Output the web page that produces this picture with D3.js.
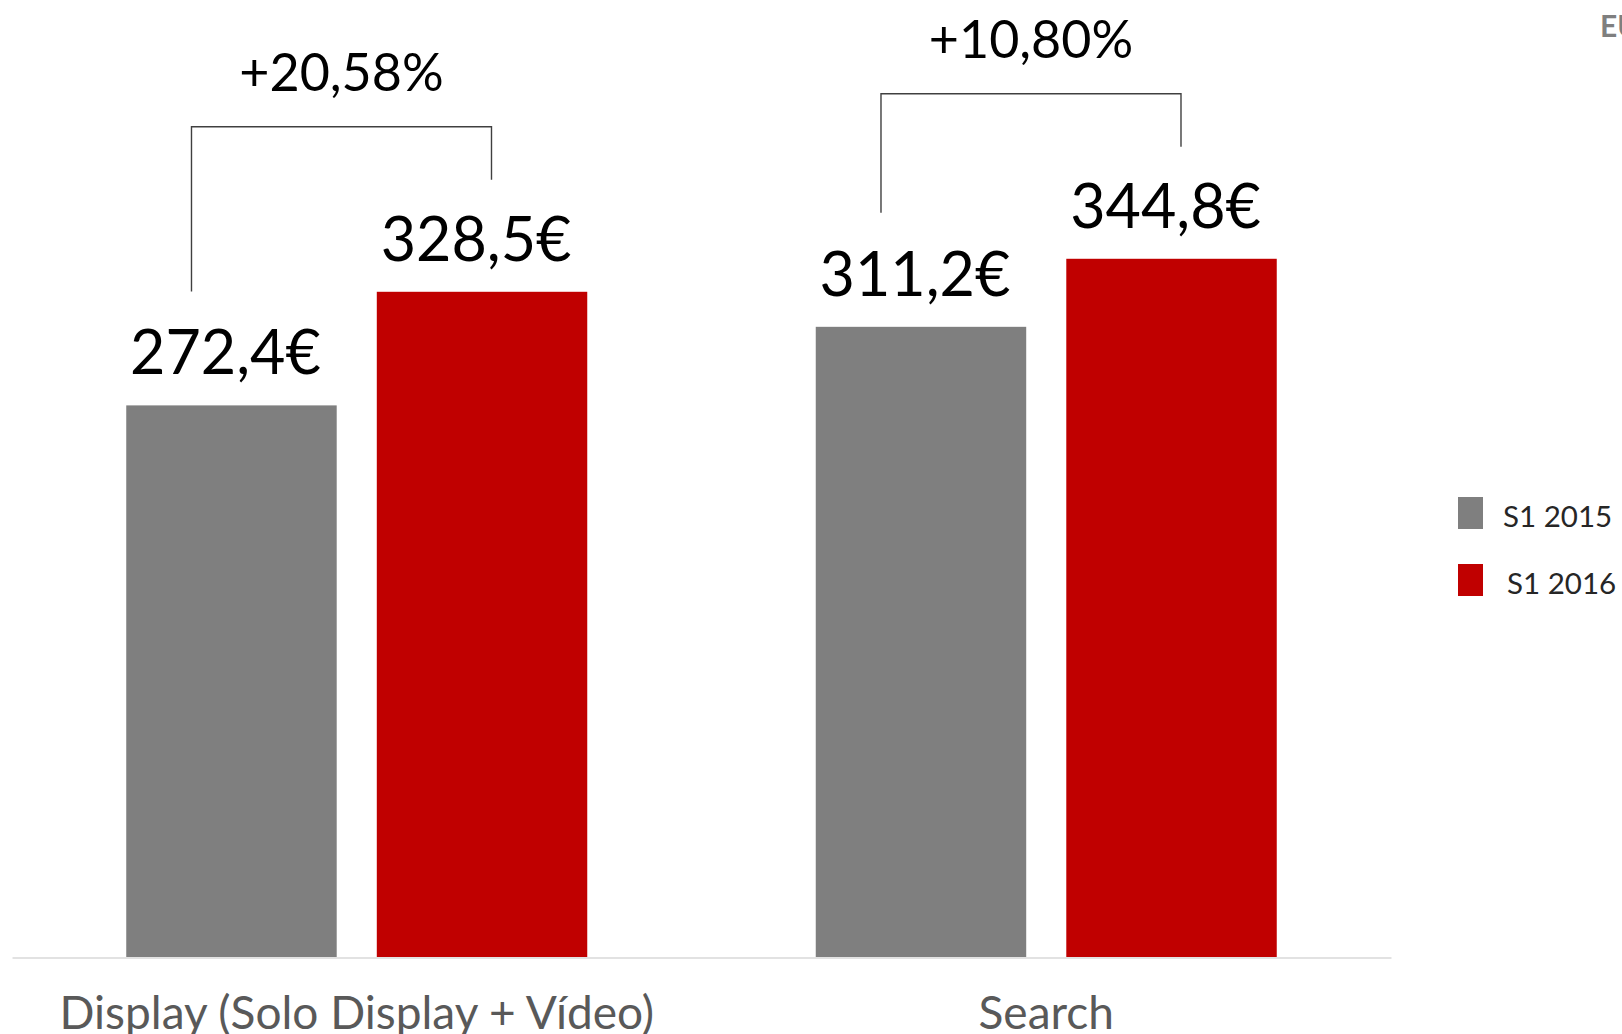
<!DOCTYPE html>
<html>
<head>
<meta charset="utf-8">
<script src="https://cdn.jsdelivr.net/npm/d3@7"></script>
<style>
  html, body { margin: 0; padding: 0; background: #ffffff; }
  svg { display: block; }
  text { font-family: Lato, "Open Sans", sans-serif; }
</style>
</head>
<body>
<svg id="chart" width="1622" height="1034"></svg>
<script>
// ---- data ----
const categories = ["Display (Solo Display + Vídeo)", "Search"];
const seriesNames = ["S1 2015", "S1 2016"];
const values2015 = [272.4, 311.2];
const values2016 = [328.5, 344.8];
const valueLabels2015 = ["272,4€", "311,2€"];
const valueLabels2016 = ["328,5€", "344,8€"];
const growthLabels = ["+20,58%", "+10,80%"];
const cornerLabel = "EU";

const colors = { "S1 2015": "#7f7f7f", "S1 2016": "#c00000" };

const svg = d3.select("#chart");

const baseY = 957;
const y = d3.scaleLinear().domain([0, 400]).range([baseY, baseY - 810]);
const x0 = d3.scaleBand().domain(categories).range([12, 1391]).padding(0);
const x1 = d3.scaleBand().domain(seriesNames).range([0, x0.bandwidth()])
  .paddingInner(0.16).paddingOuter(0.456);

const rows = categories.map((c, i) => ({
  cat: c,
  bars: [
    { s: seriesNames[0], v: values2015[i], label: valueLabels2015[i] },
    { s: seriesNames[1], v: values2016[i], label: valueLabels2016[i] }
  ],
  growth: growthLabels[i]
}));

const g = svg.append("g");

// bars
const grp = g.selectAll("g.cat").data(rows).join("g")
  .attr("class", "cat")
  .attr("transform", d => `translate(${x0(d.cat)},0)`);

grp.selectAll("rect").data(d => d.bars).join("rect")
  .attr("x", d => x1(d.s))
  .attr("y", d => y(d.v))
  .attr("width", x1.bandwidth())
  .attr("height", d => y(0) - y(d.v))
  .attr("fill", d => colors[d.s]);

// value labels
grp.selectAll("text.val").data(d => d.bars).join("text")
  .attr("class", "val")
  .attr("x", d => x1(d.s) + x1.bandwidth() / 2 - 6)
  .attr("y", d => y(d.v) - 31)
  .attr("text-anchor", "middle")
  .attr("font-size", 61)
  .attr("fill", "#000")
  .text(d => d.label);

// brackets
grp.each(function(d) {
  const sel = d3.select(this);
  const bw = x1.bandwidth();
  const xl = x1(d.bars[0].s) + bw * 0.31;
  const xr = x1(d.bars[1].s) + bw * 0.545;
  const top = y(d3.max(d.bars, b => b.v)) - 165;
  const lb = y(d.bars[0].v) - 114;
  const rb = y(d.bars[1].v) - 112;
  sel.append("path")
    .attr("d", `M${xl},${lb}V${top}H${xr}V${rb}`)
    .attr("fill", "none")
    .attr("stroke", "#404040")
    .attr("stroke-width", 1.4);
  sel.append("text")
    .attr("x", (xl + xr) / 2)
    .attr("y", top - 36)
    .attr("text-anchor", "middle")
    .attr("font-size", 52)
    .attr("fill", "#000")
    .text(d.growth);
});

// axis baseline
const axis = d3.axisBottom(x0).tickSize(0).tickPadding(0);
const ax = svg.append("g").attr("transform", `translate(0,${baseY + 0.5})`).call(axis);
ax.select(".domain").attr("stroke", "#d9d9d9").attr("stroke-width", 1.5);
ax.selectAll(".tick text")
  .attr("font-family", "Lato, sans-serif")
  .attr("font-size", 46)
  .attr("fill", "#595959")
  .attr("dy", 0)
  .attr("y", 71);

// legend
const leg = svg.append("g").attr("transform", "translate(1458,497)");
const li = leg.selectAll("g").data(seriesNames).join("g")
  .attr("transform", (d, i) => `translate(0,${i * 67})`);
li.append("rect").attr("width", 25).attr("height", 32).attr("fill", d => colors[d]);
li.append("text")
  .attr("x", (d, i) => 45 + i * 4)
  .attr("y", 30)
  .attr("font-size", 29.5)
  .attr("fill", "#262626")
  .text(d => d);

// corner label
svg.append("text")
  .attr("x", 1600).attr("y", 37)
  .attr("font-size", 30).attr("font-weight", "bold")
  .attr("fill", "#7f7f7f")
  .text(cornerLabel);
</script>
</body>
</html>
